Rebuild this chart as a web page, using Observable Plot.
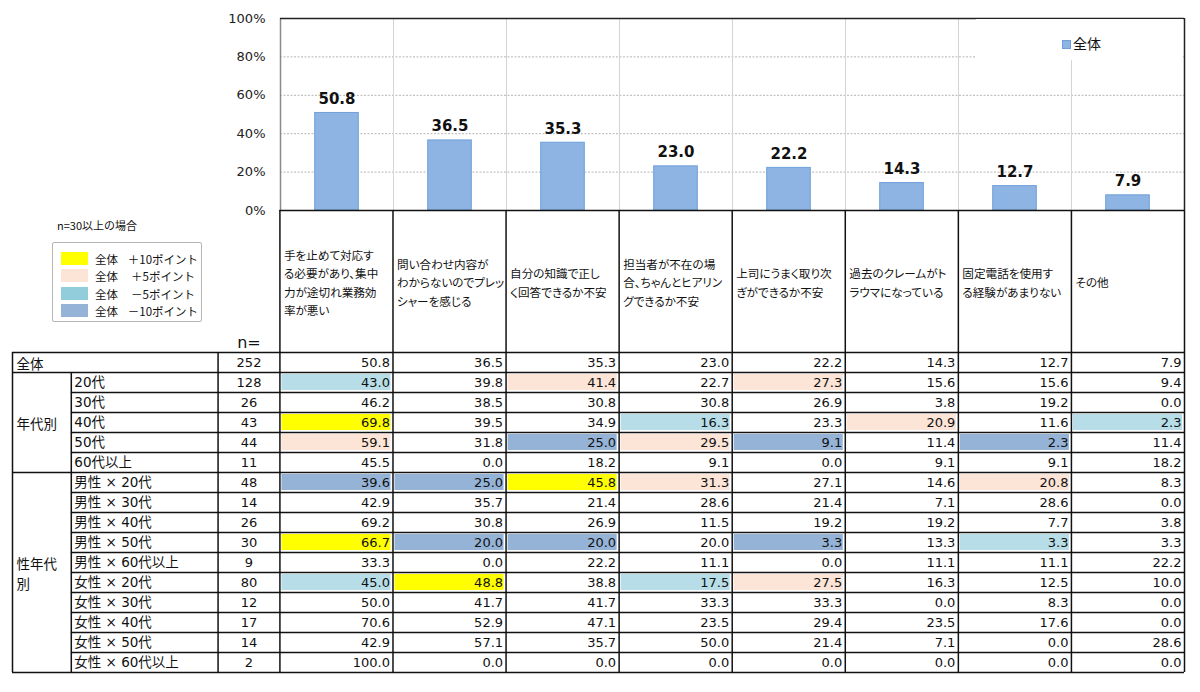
<!DOCTYPE html>
<html><head><meta charset="utf-8">
<script src="https://cdn.jsdelivr.net/npm/d3@7"></script>
<script src="https://cdn.jsdelivr.net/npm/@observablehq/plot@0.6"></script>
<style>
body{margin:0;background:#fff;}
#wrap{position:relative;width:1200px;height:692px;overflow:hidden;background:#fff;font-family:"Noto Sans CJK JP",sans-serif;}
.layer{position:absolute;left:0;}
#note{position:absolute;left:57px;top:217px;font-size:11px;color:#111;}
#legend{position:absolute;left:52px;top:242px;width:148px;height:78px;border:1px solid #b5b5b5;border-radius:2px;background:#fff;}
.li{position:absolute;left:0;height:16px;width:148px;font-size:11.5px;color:#111;line-height:16px;}
.li .sw{position:absolute;left:8px;top:1px;width:27px;height:13px;}
.li .a{position:absolute;left:42px;}
.li .b{position:absolute;left:74px;width:72px;text-align:center;}
#toplegend{position:absolute;left:976px;top:19px;width:207px;height:41px;background:#fff;}
#toplegend .sq{position:absolute;left:86px;top:21px;width:7px;height:7px;background:#8db4e2;border:0.5px solid #6f9fdb;}
#toplegend .t{position:absolute;left:97px;top:14px;font-size:14px;color:#111;line-height:20px;}
</style></head><body><div id="wrap"></div>
<script>
// ---- data ----
const categories = [
  "手を止めて対応す\nる必要があり、集中\n力が途切れ業務効\n率が悪い",
  "問い合わせ内容が\nわからないのでプレッ\nシャーを感じる",
  "自分の知識で正し\nく回答できるか不安",
  "担当者が不在の場\n合、ちゃんとヒアリン\nグできるか不安",
  "上司にうまく取り次\nぎができるか不安",
  "過去のクレームがト\nラウマになっている",
  "固定電話を使用す\nる経験があまりない",
  "その他"
];
const overall = [50.8, 36.5, 35.3, 23.0, 22.2, 14.3, 12.7, 7.9];
const yTicks = [0, 20, 40, 60, 80, 100];
const rowLabels = ["全体","20代","30代","40代","50代","60代以上",
  "男性 × 20代","男性 × 30代","男性 × 40代","男性 × 50代","男性 × 60代以上",
  "女性 × 20代","女性 × 30代","女性 × 40代","女性 × 50代","女性 × 60代以上"];
const rowN = [252,128,26,43,44,11,48,14,26,30,9,80,12,17,14,2];
const tableValues = [
  [50.8,36.5,35.3,23.0,22.2,14.3,12.7,7.9],
  [43.0,39.8,41.4,22.7,27.3,15.6,15.6,9.4],
  [46.2,38.5,30.8,30.8,26.9,3.8,19.2,0.0],
  [69.8,39.5,34.9,16.3,23.3,20.9,11.6,2.3],
  [59.1,31.8,25.0,29.5,9.1,11.4,2.3,11.4],
  [45.5,0.0,18.2,9.1,0.0,9.1,9.1,18.2],
  [39.6,25.0,45.8,31.3,27.1,14.6,20.8,8.3],
  [42.9,35.7,21.4,28.6,21.4,7.1,28.6,0.0],
  [69.2,30.8,26.9,11.5,19.2,19.2,7.7,3.8],
  [66.7,20.0,20.0,20.0,3.3,13.3,3.3,3.3],
  [33.3,0.0,22.2,11.1,0.0,11.1,11.1,22.2],
  [45.0,48.8,38.8,17.5,27.5,16.3,12.5,10.0],
  [50.0,41.7,41.7,33.3,33.3,0.0,8.3,0.0],
  [70.6,52.9,47.1,23.5,29.4,23.5,17.6,0.0],
  [42.9,57.1,35.7,50.0,21.4,7.1,0.0,28.6],
  [100.0,0.0,0.0,0.0,0.0,0.0,0.0,0.0]
];
const groupLabels = ["全体", "年代別", "性年代\n別"];
const groupRows = [[0,0],[1,5],[6,15]];
const legendTexts = ["＋10ポイント","＋5ポイント","－5ポイント","－10ポイント"];
const legendName = "全体";
const noteText = "n=30以上の場合";
const nHeader = "n=";

// ---- styles / layout ----
const hiColors = {p10:"#ffff00", p5:"#fce4d6", m5:"#b7dee8", m10:"#95b3d7"};
const legendColors = ["#ffff00","#fce4d6","#92cddc","#95b3d7"];
const edge = {group:-2.365, label:-1.845, n:-0.547, headerTop:-7.1};
const numFont = "DejaVu Sans, Noto Sans CJK JP, sans-serif";
const jpFont = "Noto Sans CJK JP, sans-serif";
const svgStyle = "background:transparent;overflow:visible;font-feature-settings:'palt';color:#222;";

const wrap = document.getElementById("wrap");

// ---- bar chart ----
const bars = overall.map((v, i) => ({i, v, cat: categories[i]}));
const chart = Plot.plot({
  width: 1200, height: 222,
  marginLeft: 280, marginRight: 16, marginTop: 18, marginBottom: 12,
  style: svgStyle,
  x: {domain: [0, 8], axis: null, label: null},
  y: {domain: [0, 100], axis: null, label: null},
  marks: [
    Plot.ruleY([20, 40, 60, 80], {stroke: "#b4b4b4", strokeDasharray: "2,1.5"}),
    Plot.ruleX(d3.range(1, 8), {stroke: "#d4d4d4"}),
    Plot.rect(bars, {x1: d => d.i, x2: d => d.i + 1, y1: () => 0, y2: "v",
      insetLeft: 34.7, insetRight: 34.7, fill: "#8db4e2", stroke: "#6f9fdb", strokeWidth: 1}),
    Plot.text(bars, {x: d => d.i + 0.5, y: "v", text: d => d.v.toFixed(1), dy: -9,
      lineAnchor: "bottom", fontSize: 15, fontWeight: "bold", fontFamily: numFont, fill: "#111"}),
    Plot.ruleX([0], {stroke: "#8a8a8a", strokeWidth: 1.5}),
    Plot.ruleX([8], {stroke: "#222", strokeWidth: 1.5}),
    Plot.ruleY([100], {stroke: "#222", strokeWidth: 1.5}),
    Plot.axisY(yTicks, {tickSize: 0, tickPadding: 15, tickFormat: d => d + "%", label: null,
      fontSize: 13, fontFamily: numFont})
  ]
});
const l1 = document.createElement("div"); l1.className = "layer"; l1.style.top = "0px";
l1.appendChild(chart); wrap.appendChild(l1);

// ---- table ----
const cells = [];
tableValues.forEach((row, r) => row.forEach((v, c) => {
  const diff = Math.round((v - overall[c]) * 10) / 10;
  let cls = null;
  if (rowN[r] >= 30 && r > 0) {
    if (diff >= 10) cls = "p10"; else if (diff >= 5) cls = "p5";
    else if (diff <= -10) cls = "m10"; else if (diff <= -5) cls = "m5";
  }
  cells.push({r, c, v, cls});
}));
const rows = rowLabels.map((label, r) => ({r, label, n: rowN[r]}));
const groups = groupLabels.map((label, g) => ({label, first: groupRows[g][0], last: groupRows[g][1]}));
const headers = categories.map((t, i) => ({i, t}));

// structural grid lines
const hLines = [{y: edge.headerTop, x1: 0, x2: 8}];
for (let r = 0; r <= rowLabels.length; r++) {
  const groupBoundary = groups.some(g => g.first === r) || r === rowLabels.length;
  hLines.push({y: r, x1: groupBoundary ? edge.group : edge.label, x2: 8});
}
const vLines = [
  {x: edge.group, y1: 0, y2: rowLabels.length},
  {x: edge.label, y1: 1, y2: rowLabels.length},
  {x: edge.n, y1: 0, y2: rowLabels.length},
  ...d3.range(0, 9).map(x => ({x, y1: edge.headerTop, y2: rowLabels.length}))
];

const table = Plot.plot({
  width: 1200, height: 487,
  marginLeft: 0, marginRight: 0, marginTop: 0, marginBottom: 0,
  style: svgStyle,
  x: {domain: [edge.group, 8], range: [12, 1184], axis: null, label: null},
  y: {domain: [edge.headerTop, rowLabels.length], range: [5, 467], axis: null, label: null},
  color: {type: "identity"},
  marks: [
    Plot.rect(cells.filter(d => d.cls), {x1: "c", x2: d => d.c + 1, y1: "r", y2: d => d.r + 1,
      fill: d => hiColors[d.cls], insetLeft: 2, insetRight: 2, insetTop: 2, insetBottom: 2}),
    Plot.text(cells, {x: d => d.c + 1, y: d => d.r + 0.5, text: d => d.v.toFixed(1), dx: -3,
      textAnchor: "end", fontSize: 13, fontFamily: numFont, fill: "#111"}),
    Plot.text(rows, {x: () => edge.n / 2, y: d => d.r + 0.5, text: d => String(d.n),
      fontSize: 13, fontFamily: numFont, fill: "#111"}),
    Plot.text(rows.filter(d => d.r > 0), {x: () => edge.label, y: d => d.r + 0.5, text: "label", dx: 3,
      textAnchor: "start", fontSize: 13.5, fontFamily: numFont, fill: "#111"}),
    Plot.text(groups, {x: () => edge.group, y: d => (d.first + d.last + 1) / 2, text: "label", dx: 4,
      textAnchor: "start", lineAnchor: "middle", lineHeight: 1.45, fontSize: 13.5, fontFamily: jpFont, fill: "#111"}),
    Plot.text(headers, {x: "i", y: () => edge.headerTop / 2, text: "t", dx: 4,
      textAnchor: "start", lineAnchor: "middle", lineHeight: 1.6, fontSize: 11.6, fontFamily: jpFont, fill: "#111"}),
    Plot.text([nHeader], {x: () => edge.n / 2, y: () => -0.5, text: d => d,
      fontSize: 16, fontFamily: numFont, fill: "#111"}),
    Plot.ruleY(hLines, {y: "y", x1: "x1", x2: "x2", stroke: "#111", strokeWidth: 1.5}),
    Plot.ruleX(vLines, {x: "x", y1: "y1", y2: "y2", stroke: "#111", strokeWidth: 1.5})
  ]
});
const l2 = document.createElement("div"); l2.className = "layer"; l2.style.top = "205px";
l2.appendChild(table); wrap.appendChild(l2);

// ---- legends ----
const note = document.createElement("div"); note.id = "note"; note.textContent = noteText; wrap.appendChild(note);
const lg = document.createElement("div"); lg.id = "legend";
legendTexts.forEach((t, i) => {
  const it = document.createElement("div"); it.className = "li"; it.style.top = (8 + i * 17.3) + "px";
  it.innerHTML = `<span class="sw" style="background:${legendColors[i]}"></span><span class="a">${legendName}</span><span class="b">${t}</span>`;
  lg.appendChild(it);
});
wrap.appendChild(lg);
const tl = document.createElement("div"); tl.id = "toplegend";
tl.innerHTML = `<span class="sq"></span><span class="t">${legendName}</span>`;
wrap.appendChild(tl);
</script></body></html>
